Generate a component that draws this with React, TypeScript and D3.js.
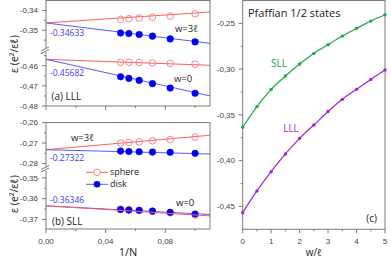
import React from "react";
import * as d3 from "d3";

// ---------- data ----------
const invN = [0.05, 0.0556, 0.0625, 0.0714, 0.0833, 0.1];

// panel (a) LLL
const sphereLLLw3 = [-0.3445, -0.3442, -0.3439, -0.3434, -0.3429, -0.3417];
const diskLLLw3 = [-0.3514, -0.3517, -0.3522, -0.353, -0.3544, -0.3559];
const sphereLLLw0 = [-0.4583, -0.4583, -0.4584, -0.4586, -0.4588, -0.4592];
const diskLLLw0 = [-0.4655, -0.4663, -0.4673, -0.4689, -0.4711, -0.4737];
// fits: [intercept, sphere slope, disk slope]
const fitLLLw3 = [-0.34633, 0.05, -0.0937];
const fitLLLw0 = [-0.45682, -0.027, -0.165];

// panel (b) SLL
const sphereSLLw3 = [-0.27, -0.2697, -0.2694, -0.2689, -0.2683, -0.2671];
const diskSLLw3 = [-0.2739, -0.2741, -0.2742, -0.2744, -0.2745, -0.275];
const sphereSLLw0 = [-0.3651, -0.3654, -0.3657, -0.3661, -0.3668, -0.3679];
const diskSLLw0 = [-0.3652, -0.3655, -0.3656, -0.366, -0.3666, -0.3674];
const fitSLLw3 = [-0.27322, 0.064, -0.019];
const fitSLLw0 = [-0.36346, -0.044, -0.038];

// panel (c)
const wVals = [0, 0.5, 1, 1.5, 2, 2.5, 3, 3.5, 4, 4.5, 5];
const pfSLL = [-0.36346, -0.341, -0.3221, -0.3075, -0.2944, -0.2828, -0.27322, -0.2639, -0.2555, -0.2475, -0.2406];
const pfLLL = [-0.45682, -0.4331, -0.4121, -0.3927, -0.3756, -0.3611, -0.34633, -0.333, -0.3221, -0.3112, -0.301];

const xTicksLeft = [0, 0.02, 0.04, 0.06, 0.08, 0.1];
const yTicksA = [-0.34, -0.35, -0.46, -0.47, -0.48];
const yMinorA = [-0.345, -0.355, -0.455, -0.465, -0.475];
const yTicksB = [-0.26, -0.27, -0.28, -0.35, -0.36, -0.37];
const yMinorB = [-0.265, -0.275, -0.355, -0.365];
const yTicksC = [-0.25, -0.3, -0.35, -0.4, -0.45];
const yMinorC = [-0.275, -0.325, -0.375, -0.425];
const xTicksC = [0, 1, 2, 3, 4, 5];
const xMinorC = [0.5, 1.5, 2.5, 3.5, 4.5];

// ---------- style ----------
const RED = "#ff5c5c";
const RED_PT = "#f58a8a";
const BLUE_LINE = "#5a5aff";
const BLUE = "#0000f0";
const BLUE_TXT = "#3a3aff";
const GREEN = "#1aaa44";
const PURPLE = "#a81fe0";
const FRAME = "#7a7a7a";
const TICKFONT = "'Liberation Sans', Arial, sans-serif";
const FONT = "'Open Sans', 'Noto Sans', sans-serif";
const TICKCOL = "#444";

const fmt = (v: number) => v.toFixed(2).replace(".", ",");

const xL = d3.scaleLinear().domain([0, 0.11]).range([46, 210]);
const yA = d3.scaleLinear().domain([-0.48, -0.4522, -0.36, -0.335]).range([106, 50, 50, 0.5]);
const yB = d3.scaleLinear().domain([-0.3746, -0.3455, -0.2824, -0.26]).range([229, 168.5, 168.5, 122.6]);
const xC = d3.scaleLinear().domain([0, 5]).range([242.7, 385]);
const yC = d3.scaleLinear().domain([-0.475, -0.225]).range([229.3, 0.5]);

type Scale = d3.ScaleLinear<number, number>;

function FitLine({ y, b, m, color }: { y: Scale; b: number; m: number; color: string }) {
  const dom = xL.domain();
  const gen = d3.line<number>().x((d) => xL(d)).y((d) => y(b + m * d));
  return <path d={gen(dom) || ""} stroke={color} strokeWidth={1} fill="none" />;
}

function Points({ y, vals, filled }: { y: Scale; vals: number[]; filled: boolean }) {
  return (
    <g>
      {vals.map((v, i) => (
        <circle
          key={i}
          cx={xL(invN[i])}
          cy={y(v)}
          r={3.3}
          fill={filled ? BLUE : "none"}
          stroke={filled ? BLUE : RED_PT}
          strokeWidth={filled ? 0.5 : 1}
        />
      ))}
    </g>
  );
}

function LeftPanel({
  y,
  top,
  bottom,
  ticks,
  minor,
  breakY,
  showXLabels,
}: {
  y: Scale;
  top: number;
  bottom: number;
  ticks: number[];
  minor: number[];
  breakY: number;
  showXLabels: boolean;
}) {
  const [x0, x1] = xL.range();
  return (
    <g>
      <rect x={x0} y={top} width={x1 - x0} height={bottom - top} fill="none" stroke={FRAME} strokeWidth={1} />
      {ticks.map((t) => (
        <g key={t}>
          <line x1={x0 - 4} x2={x0} y1={y(t)} y2={y(t)} stroke={FRAME} />
          <text x={x0 - 8} y={y(t)} dy="0.35em" textAnchor="end" fontSize={8} fontFamily={TICKFONT} fill={TICKCOL}>
            {fmt(t)}
          </text>
        </g>
      ))}
      {minor.map((t) => (
        <line key={t} x1={x0 - 2} x2={x0} y1={y(t)} y2={y(t)} stroke={FRAME} />
      ))}
      {xTicksLeft.map((t, i) => (
        <g key={t}>
          <line x1={xL(t)} x2={xL(t)} y1={bottom} y2={bottom + (i % 2 === 0 ? 4 : 2)} stroke={FRAME} />
          {showXLabels && i % 2 === 0 && (
            <text x={xL(t)} y={bottom + 15} textAnchor="middle" fontSize={8} fontFamily={TICKFONT} fill={TICKCOL}>
              {fmt(t)}
            </text>
          )}
        </g>
      ))}
      {/* axis break */}
      <rect x={x0 - 5} y={breakY - 2} width={10} height={4} fill="white" />
      <line x1={x0 - 5} y1={breakY + 1} x2={x0 + 3} y2={breakY - 3} stroke={FRAME} />
      <line x1={x0 - 5} y1={breakY + 3.5} x2={x0 + 3} y2={breakY - 0.5} stroke={FRAME} />
    </g>
  );
}

export default function App() {
  const lineC = d3
    .line<number>()
    .x((_, i) => xC(wVals[i]))
    .curve(d3.curveMonotoneX);
  return (
    <svg
      width={391}
      height={258}
      style={{ position: "absolute", left: 0, top: 0, background: "white" }}
    >
      {/* panel (a) */}
      <LeftPanel y={yA} top={0.5} bottom={106} ticks={yTicksA} minor={yMinorA} breakY={50} showXLabels={false} />
      <FitLine y={yA} b={fitLLLw3[0]} m={fitLLLw3[1]} color={RED} />
      <FitLine y={yA} b={fitLLLw3[0]} m={fitLLLw3[2]} color={BLUE_LINE} />
      <FitLine y={yA} b={fitLLLw0[0]} m={fitLLLw0[1]} color={RED} />
      <FitLine y={yA} b={fitLLLw0[0]} m={fitLLLw0[2]} color={BLUE_LINE} />
      <Points y={yA} vals={sphereLLLw3} filled={false} />
      <Points y={yA} vals={diskLLLw3} filled={true} />
      <Points y={yA} vals={sphereLLLw0} filled={false} />
      <Points y={yA} vals={diskLLLw0} filled={true} />
      <text x={50} y={33.3} dy="0.35em" fontSize={8.5} fontFamily={FONT} fill={BLUE_TXT}>-0.34633</text>
      <text x={50} y={72.7} dy="0.35em" fontSize={8.5} fontFamily={FONT} fill={BLUE_TXT}>-0.45682</text>
      <text x={175} y={28.3} dy="0.35em" fontSize={9.5} fontFamily={FONT} fill="#222">w=3ℓ</text>
      <text x={174} y={78.3} dy="0.35em" fontSize={9.5} fontFamily={FONT} fill="#222">w=0</text>
      <text x={51.5} y={96.7} dy="0.35em" fontSize={10} fontFamily={FONT} fill="#222">(a) LLL</text>
      <text transform="translate(14,54) rotate(-90)" textAnchor="middle" dy="0.35em" fontSize={10.5} fontFamily={FONT} fill="#222">
        ε (e²/εℓ)
      </text>

      {/* panel (b) */}
      <LeftPanel y={yB} top={122.6} bottom={229} ticks={yTicksB} minor={yMinorB} breakY={168.5} showXLabels={true} />
      <FitLine y={yB} b={fitSLLw3[0]} m={fitSLLw3[1]} color={RED} />
      <FitLine y={yB} b={fitSLLw3[0]} m={fitSLLw3[2]} color={BLUE_LINE} />
      <FitLine y={yB} b={fitSLLw0[0]} m={fitSLLw0[2]} color={BLUE_LINE} />
      <Points y={yB} vals={sphereSLLw3} filled={false} />
      <Points y={yB} vals={diskSLLw3} filled={true} />
      <Points y={yB} vals={sphereSLLw0} filled={false} />
      <Points y={yB} vals={diskSLLw0} filled={true} />
      <FitLine y={yB} b={fitSLLw0[0]} m={fitSLLw0[1]} color={RED} />
      <text x={50} y={157.7} dy="0.35em" fontSize={8.5} fontFamily={FONT} fill={BLUE_TXT}>-0.27322</text>
      <text x={50} y={200} dy="0.35em" fontSize={8.5} fontFamily={FONT} fill={BLUE_TXT}>-0.36346</text>
      <text x={71} y={137.7} dy="0.35em" fontSize={9.5} fontFamily={FONT} fill="#222">w=3ℓ</text>
      <text x={176} y={202.3} dy="0.35em" fontSize={9.5} fontFamily={FONT} fill="#222">w=0</text>
      <text x={52} y={221.7} dy="0.35em" fontSize={10} fontFamily={FONT} fill="#222">(b) SLL</text>
      {/* legend */}
      <line x1={86} x2={108} y1={172.3} y2={172.3} stroke={RED} />
      <circle cx={97} cy={172.3} r={3.3} fill="white" stroke={RED_PT} />
      <text x={110} y={172.3} dy="0.35em" fontSize={9} fontFamily={FONT} fill="#222">sphere</text>
      <line x1={86} x2={108} y1={184.3} y2={184.3} stroke={BLUE_LINE} />
      <circle cx={97} cy={184.3} r={3.3} fill={BLUE} />
      <text x={110} y={184.3} dy="0.35em" fontSize={9} fontFamily={FONT} fill="#222">disk</text>
      <text transform="translate(14,194) rotate(-90)" textAnchor="middle" dy="0.35em" fontSize={10.5} fontFamily={FONT} fill="#222">
        ε (e²/εℓ)
      </text>
      <text x={128} y={252} dy="0.35em" textAnchor="middle" fontSize={11} fontFamily={FONT} fill="#222">1/N</text>

      {/* panel (c) */}
      <rect x={242.7} y={0.5} width={385 - 242.7} height={229.3 - 0.5} fill="none" stroke={FRAME} />
      {yTicksC.map((t) => (
        <g key={t}>
          <line x1={238.7} x2={242.7} y1={yC(t)} y2={yC(t)} stroke={FRAME} />
          <text x={235} y={yC(t)} dy="0.35em" textAnchor="end" fontSize={8} fontFamily={TICKFONT} fill={TICKCOL}>
            {fmt(t)}
          </text>
        </g>
      ))}
      {yMinorC.map((t) => (
        <line key={t} x1={240.7} x2={242.7} y1={yC(t)} y2={yC(t)} stroke={FRAME} />
      ))}
      {xTicksC.map((t) => (
        <g key={t}>
          <line x1={xC(t)} x2={xC(t)} y1={229.3} y2={233.3} stroke={FRAME} />
          <text x={xC(t)} y={244} textAnchor="middle" fontSize={8} fontFamily={TICKFONT} fill={TICKCOL}>
            {t}
          </text>
        </g>
      ))}
      {xMinorC.map((t) => (
        <line key={t} x1={xC(t)} x2={xC(t)} y1={229.3} y2={231.3} stroke={FRAME} />
      ))}
      <path d={lineC.y((d) => yC(d))(pfSLL) || ""} stroke={GREEN} strokeWidth={1.2} fill="none" />
      <path d={lineC.y((d) => yC(d))(pfLLL) || ""} stroke={PURPLE} strokeWidth={1.2} fill="none" />
      {pfSLL.map((v, i) => (
        <circle key={"s" + i} cx={xC(wVals[i])} cy={yC(v)} r={1.7} fill={GREEN} />
      ))}
      {pfLLL.map((v, i) => (
        <circle key={"l" + i} cx={xC(wVals[i])} cy={yC(v)} r={1.7} fill={PURPLE} />
      ))}
      <text x={248} y={13} dy="0.35em" fontSize={11} fontFamily={FONT} fill="#222">Pfaffian 1/2 states</text>
      <text x={279} y={63} dy="0.35em" textAnchor="middle" fontSize={10} fontFamily={FONT} fill={GREEN}>SLL</text>
      <text x={291} y={128} dy="0.35em" textAnchor="middle" fontSize={10} fontFamily={FONT} fill={PURPLE}>LLL</text>
      <text x={377} y={218} dy="0.35em" textAnchor="end" fontSize={10} fontFamily={FONT} fill="#222">(c)</text>
      <text x={314} y={252} dy="0.35em" textAnchor="middle" fontSize={10} fontFamily={FONT} fill="#222">w/ℓ</text>
    </svg>
  );
}
